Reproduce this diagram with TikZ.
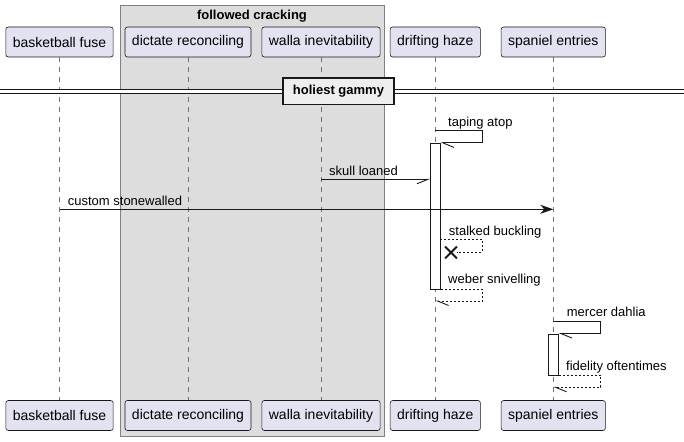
\documentclass[tikz,border=0pt]{standalone}
\usepackage{fontspec}
\setmainfont{Liberation Sans}
\usetikzlibrary{arrows.meta,shapes.misc}
\definecolor{partfill}{HTML}{E2E2F0}
\definecolor{groupfill}{HTML}{DDDDDD}
\definecolor{divfill}{HTML}{EEEEEE}
\definecolor{linecol}{HTML}{181818}
\begin{document}
\begin{tikzpicture}[x=1pt, y=-1pt,
  part/.style={shape=rectangle, rounded corners=2.5pt, draw=linecol, line width=0.6pt, fill=partfill, minimum height=30pt, inner xsep=7pt, font=\fontsize{14}{16}\selectfont},
  lifeline/.style={draw=black!55, line width=0.6pt, dash pattern=on 5pt off 5pt},
  bar/.style={shape=rectangle, draw=linecol, fill=white, line width=0.9pt, minimum width=10pt, inner sep=0pt},
  msg/.style={draw=linecol, line width=0.9pt},
  reply/.style={msg, dash pattern=on 2pt off 2pt},
  halfl/.style={-{Straight Barb[harpoon, length=11pt, width=9pt]}},
  halfr/.style={-{Straight Barb[harpoon, swap, length=11pt, width=9pt]}},
  solidhead/.style={-{Stealth[length=13pt, width=9pt, inset=4pt]}},
  lbl/.style={anchor=base west, inner sep=0pt, font=\fontsize{13}{15}\selectfont},
  boldlbl/.style={inner sep=0pt, font=\fontsize{13}{15}\selectfont\bfseries}]
\useasboundingbox (0,0) rectangle (684,441);
% group box
\filldraw[fill=groupfill, draw=black!50, line width=0.8pt] (120.5,5.5) rectangle (384,436);
\node[boldlbl, anchor=base] (grpT) at (252,19.3) {followed cracking};
% participants
\node[part] (bfT) at (59.5,42) {basketball fuse};
\node[part] (drT) at (188,42) {dictate reconciling};
\node[part] (wiT) at (321,42) {walla inevitability};
\node[part] (dhT) at (435.3,42) {drifting haze};
\node[part] (seT) at (553.3,42) {spaniel entries};
\node[part] (bfB) at (59.5,415.5) {basketball fuse};
\node[part] (drB) at (188,415.5) {dictate reconciling};
\node[part] (wiB) at (321,415.5) {walla inevitability};
\node[part] (dhB) at (435.3,415.5) {drifting haze};
\node[part] (seB) at (553.3,415.5) {spaniel entries};
\draw[lifeline] (bfT) -- (bfB);
\draw[lifeline] (drT) -- (drB);
\draw[lifeline] (wiT) -- (wiB);
\draw[lifeline] (dhT) -- (dhB);
\draw[lifeline] (seT) -- (seB);
% divider
\coordinate (divL) at (0,91.5);
\coordinate (divR) at (684,91.5);
\draw[draw=linecol, line width=0.9pt, double, double distance=2.4pt] (divL) -- (divR);
\node[boldlbl, shape=rectangle, draw=linecol, fill=divfill, line width=1.6pt, minimum width=111pt, minimum height=26pt] (div) at (338.5,91.3) {holiest gammy};
% activations
\node[bar, minimum height=145.7pt] (act1) at (435.2,216.2) {};
\node[bar, minimum height=41pt] (act2) at (553.2,354.5) {};
% messages
\coordinate (m1a) at (435.3,130.7);
\draw[msg, halfl] (m1a) -- ++(47,0) |- (act1.north east);
\node[lbl] (l1) at (448,126.5) {taping atop};
\coordinate (m2a) at (321,179.3);
\coordinate (m2b) at (430.2,179.3);
\draw[msg, halfr] (m2a) -- (m2b);
\node[lbl] (l2) at (329,175) {skull loaned};
\coordinate (m3a) at (59.5,209.3);
\coordinate (m3b) at (553.3,209.3);
\draw[msg, solidhead] (m3a) -- (m3b);
\node[lbl] (l3) at (67.7,205) {custom stonewalled};
\node[shape=cross out, draw=linecol, line width=1.8pt, minimum size=10pt, inner sep=0pt] (x1) at (451,252.5) {};
\coordinate (m4a) at (440.2,239.3);
\draw[reply] (m4a) -- ++(42,0) |- (x1.east);
\node[lbl] (l4) at (448.7,235) {stalked buckling};
\coordinate (m5b) at (435.3,301);
\draw[reply, halfl] (act1.south east) -- ++(42,0) |- (m5b);
\node[lbl] (l5) at (448,283.5) {weber snivelling};
\coordinate (m6a) at (553.3,321.3);
\draw[msg, halfl] (m6a) -- ++(47,0) |- (act2.north east);
\node[lbl] (l6) at (566.7,316.7) {mercer dahlia};
\coordinate (m7b) at (553.3,387.3);
\draw[reply, halfl] (act2.south east) -- ++(42,0) |- (m7b);
\node[lbl] (l7) at (566,370) {fidelity oftentimes};
\end{tikzpicture}
\end{document}
